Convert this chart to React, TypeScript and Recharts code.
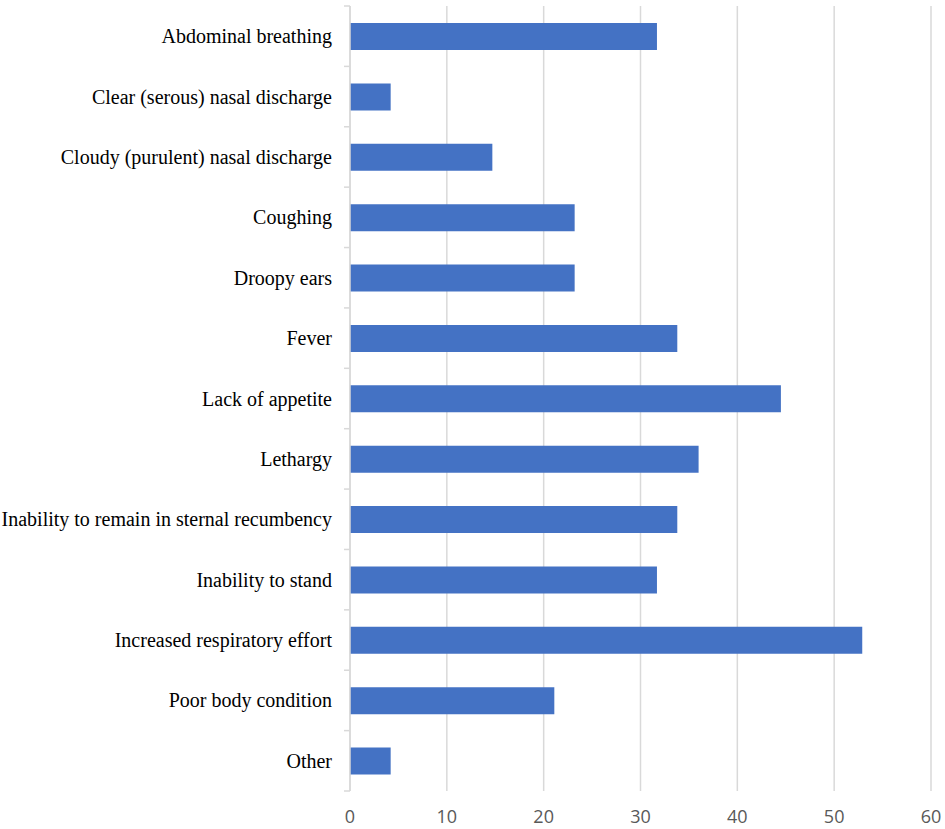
import { BarChart, Bar, XAxis, YAxis, CartesianGrid } from "recharts";

const categories = [
  "Abdominal breathing",
  "Clear (serous) nasal discharge",
  "Cloudy (purulent) nasal discharge",
  "Coughing",
  "Droopy ears",
  "Fever",
  "Lack of appetite",
  "Lethargy",
  "Inability to remain in sternal recumbency",
  "Inability to stand",
  "Increased respiratory effort",
  "Poor body condition",
  "Other",
];

const percentages = [31.7, 4.2, 14.7, 23.2, 23.2, 33.8, 44.5, 36.0, 33.8, 31.7, 52.9, 21.1, 4.2];

const xTicks = [0, 10, 20, 30, 40, 50, 60];

const data = categories.map((name, i) => ({ name, value: percentages[i] }));

const W = 945;
const H = 829;
const margin = { top: 6, right: 14, bottom: 8, left: 0 };
const X_AXIS_H = 30;
const Y_AXIS_W = 350;
const band = (H - margin.top - margin.bottom - X_AXIS_H) / categories.length;

const gridColor = "#d9d9d9";

// category label plus the small Excel-style tick marks between categories
function CategoryTick(props: any) {
  const { x, y, payload, index } = props;
  const ax = x + 18;
  return (
    <g>
      <text
        x={x}
        y={y}
        textAnchor="end"
        dominantBaseline="central"
        fontFamily="'Liberation Serif', 'Times New Roman', serif"
        fontSize={20}
        fill="#000"
      >
        {payload.value}
      </text>
      <line x1={ax - 6} x2={ax} y1={y - band / 2} y2={y - band / 2} stroke={gridColor} strokeWidth={1.5} />
      {index === categories.length - 1 && (
        <line x1={ax - 6} x2={ax} y1={y + band / 2} y2={y + band / 2} stroke={gridColor} strokeWidth={1.5} />
      )}
    </g>
  );
}

export default function App() {
  return (
    <div style={{ position: "absolute", left: 0, top: 0, width: W, height: H, background: "#fff" }}>
      <BarChart width={W} height={H} data={data} layout="vertical" margin={margin}>
        <CartesianGrid horizontal={false} stroke={gridColor} strokeWidth={1.5} />
        <XAxis
          type="number"
          domain={[0, 60]}
          ticks={xTicks}
          axisLine={false}
          tickLine={false}
          height={X_AXIS_H}
          tickSize={6}
          tickMargin={13}
          tick={{ fill: "#595959", fontSize: 18, fontFamily: "'Open Sans', 'Noto Sans', sans-serif" }}
        />
        <YAxis
          type="category"
          dataKey="name"
          width={Y_AXIS_W}
          axisLine={{ stroke: gridColor, strokeWidth: 1.5 }}
          tickLine={false}
          tickSize={6}
          tickMargin={12}
          interval={0}
          tick={<CategoryTick />}
        />
        <Bar dataKey="value" fill="#4472C4" barSize={27} isAnimationActive={false} />
      </BarChart>
    </div>
  );
}
